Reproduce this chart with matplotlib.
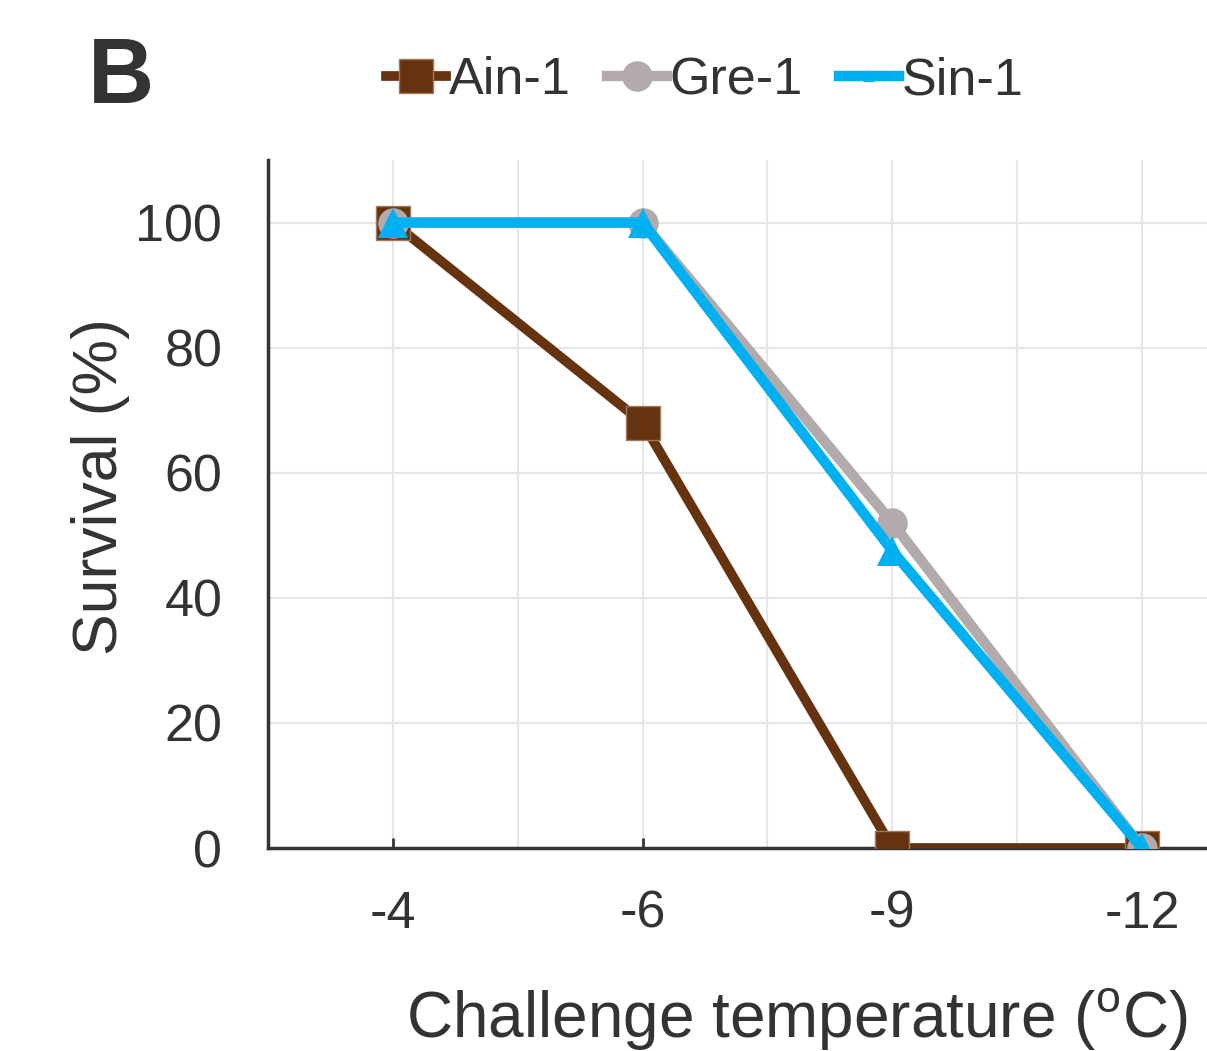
import matplotlib
matplotlib.use("Agg")
import matplotlib.pyplot as plt
from matplotlib.lines import Line2D

# donnees
temperatures = ["-4", "-6", "-9", "-12"]
ain1 = [100, 68, 0, 0]
gre1 = [100, 100, 52, 0]
sin1 = [100, 100, 47.5, 0]

couleur_ain = "#663310"
couleur_gre = "#b3abab"
couleur_sin = "#00b0f0"
couleur_texte = "#333333"

plt.rcParams["font.family"] = ["Liberation Sans", "DejaVu Sans"]

fig = plt.figure(figsize=(12.07, 10.51), dpi=100)
ax = fig.add_axes([268 / 1207, 1 - 848 / 1051, 1 - 268 / 1207, (848 - 160) / 1051])

x = range(len(temperatures))

# grille
ax.set_xticks([i + 0.5 for i in x][:-1], minor=True)
ax.grid(True, which="both", color="#e6e6e6", linewidth=1.5, zorder=0)
ax.set_axisbelow(True)

# courbes
ax.plot(x, ain1, color=couleur_ain, linewidth=7, marker="s", markersize=24,
        markeredgecolor="#a07a5c", markeredgewidth=1, zorder=3)
ax.plot(x, gre1, color=couleur_gre, linewidth=7.5, marker="o", markersize=22,
        markeredgewidth=0, zorder=4)
ax.plot(x, sin1, color=couleur_sin, linewidth=7.5, marker="^", markersize=22,
        markeredgewidth=0, zorder=5)

ax.set_xlim(-0.5, (1207 - 393) / 249.7)
ax.set_ylim(0, 110)
ax.set_xticks(list(x))
ax.set_xticklabels(temperatures)
ax.set_yticks([0, 20, 40, 60, 80, 100])

for cote in ["top", "right"]:
    ax.spines[cote].set_visible(False)
for cote in ["left", "bottom"]:
    ax.spines[cote].set_color(couleur_texte)
    ax.spines[cote].set_linewidth(2.5)

ax.tick_params(axis="x", which="major", direction="in", length=7, width=2,
               color=couleur_texte, labelsize=37.5, labelcolor=couleur_texte, pad=30)
ax.tick_params(axis="x", which="minor", length=0)
ax.tick_params(axis="y", length=0, labelsize=37.5, labelcolor=couleur_texte, pad=33)

# titres des axes
fig.text(100 / 1207, 1 - 487 / 1051, "Survival (%)", rotation=90, ha="center",
         va="center", fontsize=45, color=couleur_texte)
fig.text(1187 / 1207, 1 - 1037 / 1051, "Challenge temperature ($^\\mathregular{o}$C)",
         ha="right", va="baseline", fontsize=46, color=couleur_texte)

# lettre du panneau
fig.text(88 / 1207, 1 - 103 / 1051, "B", fontsize=66, fontweight="bold",
         color=couleur_texte, ha="left", va="baseline")

# legende
poignees = [
    Line2D([], [], color=couleur_ain, linewidth=7, marker="s", markersize=24,
           markeredgecolor="#a07a5c", markeredgewidth=1),
    Line2D([], [], color=couleur_gre, linewidth=7.5, marker="o", markersize=22,
           markeredgewidth=0),
    Line2D([], [], color=couleur_sin, linewidth=7.5, marker="^", markersize=9,
           markeredgewidth=0),
]
leg = fig.legend(poignees, ["Ain-1", "Gre-1", "Sin-1"], loc="center",
                 bbox_to_anchor=(705 / 1207, 1 - 81 / 1051), ncol=3, frameon=False,
                 fontsize=37.5, handlelength=1.15, handletextpad=0.05,
                 columnspacing=0.7, borderpad=0)
for t in leg.get_texts():
    t.set_color(couleur_texte)

fig.savefig("out.png", dpi=100)
